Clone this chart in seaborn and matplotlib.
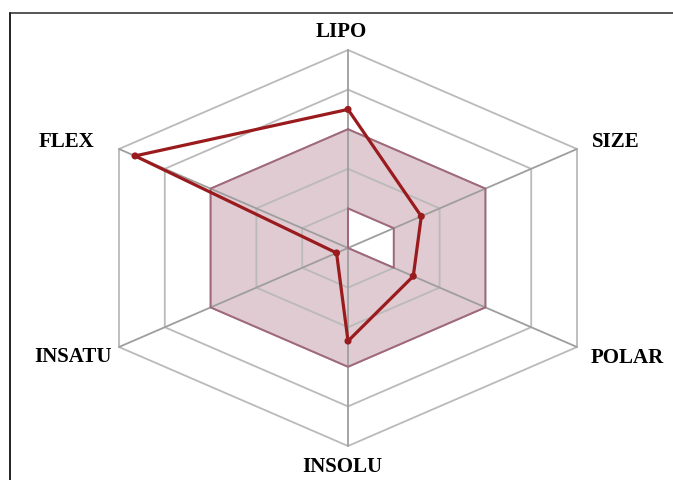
import numpy as np
import pandas as pd
import matplotlib
matplotlib.use("Agg")
import matplotlib.pyplot as plt
from matplotlib.lines import Line2D
import seaborn as sns

# Bioavailability radar: six physicochemical properties on a 0..1 scale
categories = ["LIPO", "SIZE", "POLAR", "INSOLU", "INSATU", "FLEX"]
values = [0.70, 0.32, 0.285, 0.47, 0.05, 0.93]
# optimal range (pink band) per property
range_low = [0.2, 0.2, 0.2, 0.0, 0.0, 0.0]
range_high = [0.6, 0.6, 0.6, 0.6, 0.6, 0.6]
ring_levels = [0.2, 0.4, 0.6, 0.8, 1.0]

W, H, DPI = 673, 480, 100
CX, CY = 348, 248          # centre of the radar in pixels
SX = 229 / np.cos(np.pi / 6)  # horizontal pixels per unit radius
SY = 198                    # vertical pixels per unit radius

sns.set_theme(style="white")
fig = plt.figure(figsize=(W / DPI, H / DPI), dpi=DPI)
ax = fig.add_axes([0, 0, 1, 1])
ax.set_xlim(-CX / SX, (W - CX) / SX)
ax.set_ylim(-(H - CY) / SY, CY / SY)
ax.axis("off")

theta = np.deg2rad(np.arange(len(categories)) * 60.0)
ux, uy = np.sin(theta), np.cos(theta)


def to_xy(r):
    r = np.asarray(r, dtype=float)
    return r * ux, r * uy


def closed(a):
    return np.append(a, a[0])


# optimal-range band
hx, hy = to_xy(range_high)
lx, ly = to_xy(range_low)
ax.fill(hx, hy, color="#e0cbd2", zorder=1)
ax.fill(lx, ly, color="white", zorder=1.1)

# hexagonal rings and spokes
for lvl in ring_levels:
    gx, gy = to_xy([lvl] * len(categories))
    ax.plot(closed(gx), closed(gy), color="#bababa", lw=1.3, zorder=2)
for x1, y1 in zip(ux, uy):
    ax.plot([0, x1], [0, y1], color="#9e9e9e", lw=1.3, zorder=2)

# band outlines drawn over the grid
ax.plot(closed(hx), closed(hy), color="#a06878", lw=1.4, zorder=3)
ax.plot(closed(lx), closed(ly), color="#a06878", lw=1.4, zorder=3)

# the compound profile
px, py = to_xy(values)
df = pd.DataFrame({"x": closed(px), "y": closed(py)})
sns.lineplot(data=df, x="x", y="y", sort=False, estimator=None,
             color="#9a1b1e", lw=2.3, ax=ax, zorder=4)
sns.scatterplot(data=df.iloc[:-1], x="x", y="y", color="#9a1b1e",
                s=26, edgecolor="none", ax=ax, zorder=5)
ax.set_xlabel("")
ax.set_ylabel("")

# axis labels, offset in points from each outer vertex
label_offsets = {
    "LIPO": (-5, 13, "center"),
    "SIZE": (11, 5, "left"),
    "POLAR": (10, -8, "left"),
    "INSOLU": (-4, -15, "center"),
    "INSATU": (-5, -7, "right"),
    "FLEX": (-18, 5, "right"),
}
for name, x1, y1 in zip(categories, ux, uy):
    dx, dy, ha = label_offsets[name]
    ax.annotate(name, (x1, y1), xytext=(dx, dy), textcoords="offset points",
                ha=ha, va="center", fontsize=15, fontweight="bold",
                family="Liberation Serif", color="black")

# frame lines along the top and left edge
fig.add_artist(Line2D([10 / W, 1], [1 - 13 / H, 1 - 13 / H],
                      transform=fig.transFigure, color="#555555", lw=1.4))
fig.add_artist(Line2D([10 / W, 10 / W], [0, 1 - 13 / H],
                      transform=fig.transFigure, color="#222222", lw=1.4))

fig.savefig("out.png", dpi=DPI)
